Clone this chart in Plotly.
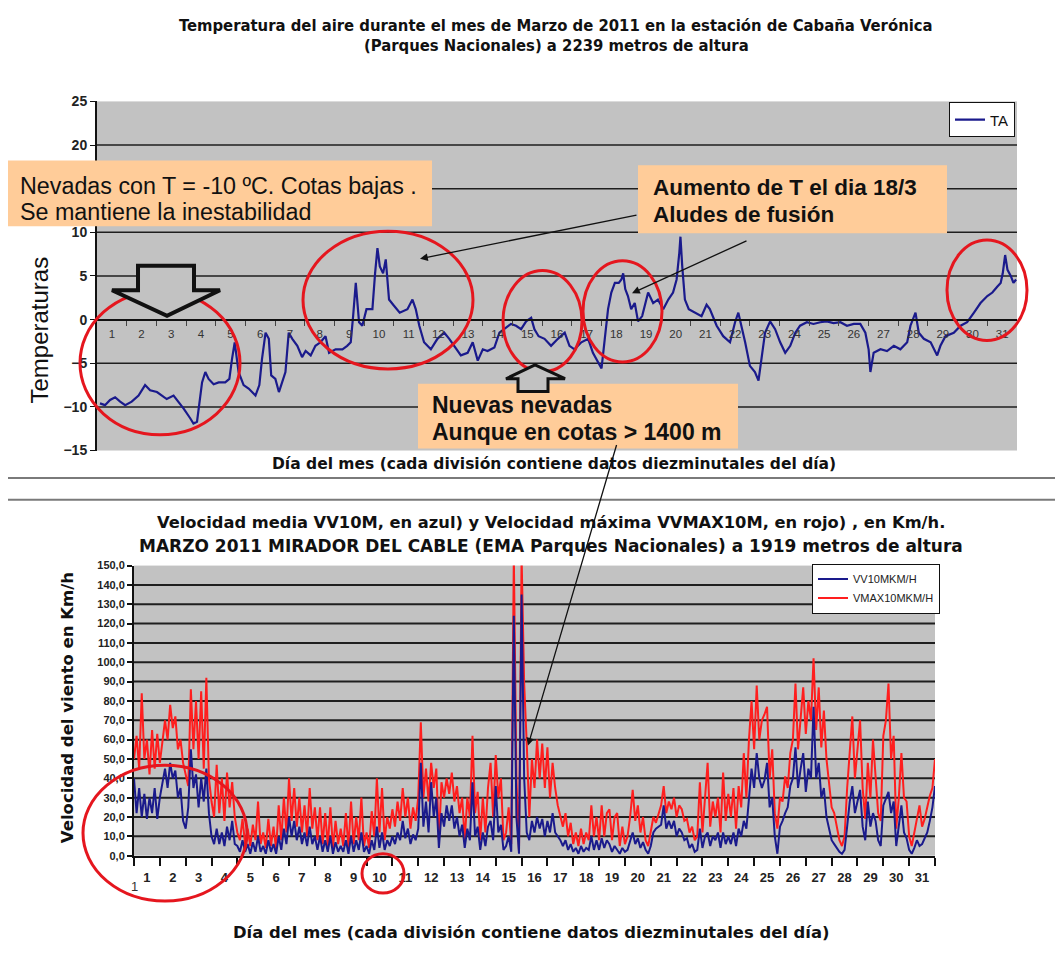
import plotly.graph_objects as go

W, H = 1055, 963


def px(x):
    return x / W


def py(y):
    return 1 - y / H


# ---------------- DATA ----------------
DAY_LABELS = [str(i) for i in range(1, 32)]

# Top chart: air temperature (TA), x = day of month as fraction (0 = start of day 1)
TEMP_DAY = [0.10, 0.27, 0.44, 0.61, 0.78, 0.95, 1.17, 1.40, 1.62, 1.79, 2.02, 2.18, 2.35, 2.58,
            2.75, 2.92, 3.14, 3.25, 3.37, 3.54, 3.65, 3.76, 3.93, 4.10, 4.32, 4.46, 4.55, 4.64,
            4.77, 4.94, 5.11, 5.34, 5.47, 5.56, 5.68, 5.79, 5.87, 6.01, 6.13, 6.24, 6.35, 6.46,
            6.58, 6.75, 6.91, 7.03, 7.20, 7.36, 7.53, 7.70, 7.82, 8.04, 8.27, 8.43, 8.55, 8.63,
            8.72, 8.83, 8.94, 9.08, 9.28, 9.37, 9.45, 9.53, 9.64, 9.73, 9.84, 9.98, 10.20, 10.46,
            10.63, 10.74, 10.86, 11.02, 11.25, 11.47, 11.70, 11.87, 12.04, 12.26, 12.49, 12.66,
            12.83, 13.00, 13.16, 13.39, 13.56, 13.73, 13.95, 14.12, 14.29, 14.46, 14.63, 14.74,
            14.88, 15.08, 15.30, 15.53, 15.76, 15.92, 16.09, 16.32, 16.55, 16.71, 16.88, 17.00,
            17.11, 17.22, 17.33, 17.45, 17.58, 17.67, 17.73, 17.80, 17.89, 18.00, 18.12, 18.23,
            18.37, 18.57, 18.74, 18.90, 19.08, 19.25, 19.41, 19.53, 19.62, 19.66, 19.72, 19.81,
            19.94, 20.14, 20.37, 20.54, 20.65, 20.88, 21.10, 21.33, 21.50, 21.61, 21.72, 21.84,
            22.00, 22.17, 22.29, 22.40, 22.51, 22.68, 22.85, 23.02, 23.19, 23.36, 23.53, 23.69,
            23.92, 24.14, 24.37, 24.59, 24.82, 25.05, 25.27, 25.50, 25.72, 25.89, 26.00, 26.06,
            26.17, 26.40, 26.62, 26.85, 27.07, 27.30, 27.41, 27.58, 27.69, 27.86, 28.09, 28.31,
            28.42, 28.59, 28.87, 29.10, 29.32, 29.55, 29.77, 30.00, 30.17, 30.34, 30.45, 30.52,
            30.60, 30.68, 30.79, 30.88, 30.97]
TEMP_TA = [-9.6, -9.8, -9.2, -8.9, -9.4, -9.8, -9.4, -8.7, -7.5, -8.1, -8.3, -8.7, -9.1, -8.7,
           -9.4, -10.2, -11.3, -11.9, -11.7, -7.2, -6.0, -6.8, -7.4, -7.2, -7.2, -6.8, -4.5, -2.6,
           -6.0, -7.5, -7.9, -8.7, -7.5, -4.5, -1.5, -2.2, -6.4, -6.8, -8.3, -7.2, -6.0, -1.5,
           -2.2, -3.0, -4.3, -3.6, -4.1, -3.0, -2.6, -1.9, -3.8, -3.4, -3.4, -3.0, -2.6, 0.4,
           4.2, -0.3, -0.7, 1.2, 1.2, 5.3, 8.2, 6.1, 5.3, 6.9, 2.3, 1.7, 0.8, 1.2,
           2.3, 1.2, -0.7, -2.6, -3.4, -2.2, -1.5, -2.2, -3.0, -4.1, -3.8, -2.6,
           -4.7, -3.4, -3.6, -3.2, -1.5, -1.1, -0.5, -0.7, -1.1, -0.2, 0.2, -1.1,
           -1.9, -2.2, -3.0, -2.2, -1.5, -3.0, -3.4, -2.6, -2.2, -3.8, -4.9, -5.6,
           -2.2, 1.2, 3.1, 4.2, 4.2, 4.6, 5.3, 3.5, 2.7, 1.2, 1.9, -0.2,
           0.4, 3.1, 1.9, 2.3, 1.2, 2.3, 3.1, 4.6, 7.6, 9.5, 6.1, 2.3,
           1.2, 0.8, 0.4, 1.7, 1.2, -0.7, -1.9, -2.6, -0.3, 0.8, -0.7, -2.6,
           -5.3, -6.0, -7.0, -4.5, -1.5, -0.2, -1.1, -2.6, -3.8, -3.0, -1.5, -0.7,
           -0.3, -0.5, -0.3, -0.2, -0.4, -0.3, -0.7, -0.5, -0.5, -1.5, -3.4, -6.0,
           -3.8, -3.4, -3.6, -3.0, -3.4, -2.6, -0.7, 0.8, -1.5, -2.2, -2.6, -4.1,
           -3.0, -1.9, -1.5, -0.7, -0.3, 0.8, 1.9, 2.7, 3.1, 3.8, 4.2, 5.3,
           7.4, 5.7, 5.0, 4.2, 4.6]
# "15" label is hidden behind the annotation box in the reference
TEMP_TICKS = [-15, -10, -5, 0, 5, 10, 20, 25]
TEMP_GRID = [-10, -5, 5, 10, 15, 20]

# Bottom chart: wind speed (km/h), sampled every 0.1 day
WIND_DAY = [round(i * 0.1, 1) for i in range(311)]
VMAX10 = [
    50, 62, 45, 84, 50, 60, 42, 65, 45, 63,
    48, 58, 70, 60, 78, 66, 72, 55, 60, 48,
    42, 36, 86, 55, 80, 50, 85, 45, 92, 40,
    28, 20, 47, 22, 40, 18, 43, 25, 38, 20,
    12, 8, 19, 6, 14, 5, 16, 8, 28, 6,
    12, 4, 19, 5, 15, 3, 26, 8, 30, 12,
    40, 18, 35, 15, 30, 12, 26, 10, 35, 14,
    25, 8, 25, 6, 22, 5, 25, 4, 18, 6,
    14, 5, 22, 4, 28, 6, 20, 8, 30, 5,
    12, 4, 23, 10, 40, 12, 35, 8, 20, 14,
    24, 15, 28, 18, 35, 20, 30, 14, 25, 18,
    30, 69, 30, 45, 28, 48, 35, 45, 8, 38,
    30, 40, 32, 43, 28, 36, 22, 30, 8, 30,
    20, 62, 22, 33, 8, 30, 12, 35, 48, 20,
    52, 30, 40, 8, 12, 25, 6, 155, 40, 2,
    155, 89, 58, 20, 50, 35, 60, 40, 58, 35,
    56, 30, 48, 35, 26, 20, 15, 22, 10, 17,
    6, 12, 5, 14, 6, 12, 8, 26, 10, 20,
    8, 26, 10, 22, 24, 8, 20, 22, 5, 15,
    6, 10, 20, 34, 18, 26, 12, 20, 8, 5,
    12, 20, 17, 21, 26, 36, 22, 28, 24, 30,
    20, 26, 24, 18, 19, 12, 15, 8, 10, 38,
    12, 30, 48, 15, 28, 20, 30, 12, 43, 18,
    32, 20, 35, 14, 36, 25, 53, 30, 60, 80,
    55, 88, 60, 70, 73, 77, 40, 55, 22, 14,
    30, 28, 41, 35, 53, 60, 89, 55, 72, 87,
    63, 80, 70, 102, 65, 87, 56, 75, 50, 36,
    25, 22, 15, 8, 5, 10, 35, 55, 72, 40,
    55, 70, 35, 19, 48, 30, 60, 40, 22, 18,
    62, 70, 89, 50, 62, 14, 30, 53, 30, 28,
    10, 5, 12, 20, 26, 15, 19, 25, 31, 35,
    50]
VV10 = [
    40, 22, 35, 20, 32, 19, 30, 22, 35, 19,
    30, 38, 45, 35, 48, 40, 44, 30, 35, 18,
    14, 25, 55, 35, 42, 25, 40, 28, 45, 22,
    10, 6, 14, 6, 12, 5, 15, 8, 18, 6,
    5, 2, 8, 2, 6, 1, 7, 2, 10, 2,
    5, 1, 8, 2, 6, 1, 10, 3, 14, 6,
    20, 10, 18, 8, 15, 6, 12, 5, 15, 6,
    10, 3, 10, 2, 8, 2, 10, 1, 7, 2,
    5, 2, 8, 1, 10, 2, 8, 3, 12, 2,
    5, 1, 8, 3, 15, 4, 12, 3, 8, 5,
    10, 6, 12, 8, 18, 9, 14, 6, 11, 8,
    14, 48, 15, 28, 12, 38, 20, 30, 4, 22,
    15, 26, 18, 26, 14, 20, 10, 16, 4, 14,
    8, 38, 10, 15, 3, 12, 5, 15, 18, 8,
    36, 12, 16, 3, 5, 10, 2, 124, 20, 1,
    135, 40, 12, 8, 18, 12, 20, 14, 19, 10,
    18, 12, 22, 12, 10, 8, 5, 8, 3, 6,
    2, 4, 1, 5, 2, 4, 3, 10, 3, 8,
    3, 9, 4, 8, 6, 2, 5, 3, 1, 4,
    2, 3, 8, 12, 6, 9, 4, 7, 3, 1,
    5, 12, 14, 15, 16, 26, 14, 18, 14, 18,
    10, 14, 12, 8, 9, 4, 6, 2, 3, 14,
    4, 10, 12, 5, 10, 8, 12, 4, 12, 6,
    10, 6, 12, 5, 14, 10, 18, 14, 30, 45,
    35, 53, 40, 35, 39, 48, 25, 30, 10, 1,
    15, 18, 22, 25, 36, 40, 56, 35, 45, 53,
    33, 45, 40, 77, 40, 48, 30, 35, 20, 14,
    8, 6, 4, 2, 1, 3, 15, 28, 36, 22,
    28, 34, 15, 8, 28, 15, 22, 18, 8, 5,
    26, 30, 33, 22, 28, 5, 15, 26, 12, 9,
    3, 1, 4, 8, 5, 6, 9, 12, 18, 25,
    36]
WIND_TICKS = list(range(0, 151, 10))
WIND_TICKTEXT = [f"{v},0" for v in WIND_TICKS]
WIND_GRID = list(range(10, 150, 10))

# ---------------- FIGURE ----------------
BG = "#C2C2C2"
NAVY = "#1A1A8C"
RED = "#FF1E1E"
FONT = "Liberation Sans, Arial, sans-serif"
WIDE = "DejaVu Sans, Verdana, sans-serif"

top_dom = [py(450), py(95)]
bot_dom = [py(862), py(567)]
zero_pos = top_dom[0] + (0 - (-15)) / 40 * (top_dom[1] - top_dom[0])

fig = go.Figure()
fig.add_trace(go.Scatter(x=TEMP_DAY, y=TEMP_TA, mode="lines", name="TA",
                         line=dict(color=NAVY, width=2.2), xaxis="x", yaxis="y",
                         legend="legend"))
fig.add_trace(go.Scatter(x=WIND_DAY, y=VMAX10, mode="lines", name="VMAX10MKM/H",
                         line=dict(color=RED, width=2), xaxis="x2", yaxis="y2",
                         legend="legend2", legendrank=2))
fig.add_trace(go.Scatter(x=WIND_DAY, y=VV10, mode="lines", name="VV10MKM/H",
                         line=dict(color=NAVY, width=2), xaxis="x2", yaxis="y2",
                         legend="legend2", legendrank=1))

centers = [i + 0.5 for i in range(31)]

fig.update_layout(
    width=W, height=H, margin=dict(l=0, r=0, t=0, b=0),
    paper_bgcolor="white", plot_bgcolor=BG,
    font=dict(family=FONT, color="#111"),
    xaxis=dict(domain=[px(97), px(1017)], range=[0, 31], anchor="free", position=zero_pos,
               tickvals=centers, ticktext=DAY_LABELS, ticks="", showgrid=False,
               zeroline=False, showline=True, linecolor="#111", linewidth=2,
               tickfont=dict(size=11.5, color="#333"), ticklabelstandoff=4,
               minor=dict(tickvals=list(range(1, 31)), ticks="outside", ticklen=5,
                          tickwidth=1, tickcolor="#444", showgrid=False)),
    yaxis=dict(domain=top_dom, range=[-15, 25], anchor="x", tickvals=TEMP_TICKS,
               ticks="outside", ticklen=5, tickcolor="#111", showgrid=False,
               zeroline=False, showline=True, linecolor="#111", linewidth=2,
               tickfont=dict(size=14, color="#222", weight="bold")),
    xaxis2=dict(domain=[px(134), px(935)], range=[0, 31], anchor="y2",
                tickvals=centers, ticktext=DAY_LABELS, ticks="", showgrid=False,
                zeroline=False, showline=True, linecolor="#111", linewidth=2,
                tickfont=dict(size=13, color="#222", weight="bold"), ticklabelstandoff=9,
                minor=dict(tickvals=list(range(0, 32)), ticks="outside", ticklen=8,
                           tickwidth=2, tickcolor="#111", showgrid=False)),
    yaxis2=dict(domain=bot_dom, range=[0, 150], anchor="x2", tickvals=WIND_TICKS,
                ticktext=WIND_TICKTEXT, ticks="outside", ticklen=5, tickwidth=2,
                tickcolor="#111", showgrid=False, zeroline=False, showline=True,
                linecolor="#111", linewidth=2,
                tickfont=dict(size=11, color="#222", weight="bold")),
    legend=dict(x=px(1015), xanchor="right", y=py(96), yanchor="top", bgcolor="white",
                bordercolor="#111", borderwidth=1, font=dict(size=15, color="#111"),
                itemwidth=30, tracegroupgap=0),
    legend2=dict(x=px(940), xanchor="right", y=py(565), yanchor="top", bgcolor="white",
                 bordercolor="#111", borderwidth=1, font=dict(size=11, color="#222"),
                 itemwidth=30, tracegroupgap=0),
    showlegend=True,
)

shapes = []
# gridlines
for v in TEMP_GRID:
    shapes.append(dict(type="line", xref="x domain", yref="y", x0=0, x1=1, y0=v, y1=v,
                       line=dict(color="#1E1E1E", width=1.5), layer="below"))
for v in WIND_GRID:
    shapes.append(dict(type="line", xref="x2 domain", yref="y2", x0=0, x1=1, y0=v, y1=v,
                       line=dict(color="#1E1E1E", width=2), layer="below"))
# separator lines between charts
for yy in (478, 500):
    shapes.append(dict(type="line", xref="paper", yref="paper", x0=px(8), x1=1,
                       y0=py(yy), y1=py(yy), line=dict(color="#7A7A7A", width=2)))

PEACH = "#FFCC99"
boxes = [(8, 155, 432, 222), (638, 160, 947, 229), (418, 382, 738, 448)]
for x0, y0, x1, y1 in boxes:
    shapes.append(dict(type="rect", xref="paper", yref="paper", x0=px(x0), x1=px(x1),
                       y0=py(y1), y1=py(y0), fillcolor=PEACH, line=dict(width=0),
                       layer="above"))

ELL = "#E5161E"
ellipses = [(80, 288, 240, 434), (303, 227, 473, 367), (503, 267, 582, 370),
            (583, 257, 662, 360), (947, 236, 1027, 338), (83, 770, 247, 908),
            (362, 860, 404, 900)]
for x0, y0, x1, y1 in ellipses:
    shapes.append(dict(type="circle", xref="paper", yref="paper", x0=px(x0), x1=px(x1),
                       y0=py(y1), y1=py(y0), line=dict(color=ELL, width=3), layer="above"))


def path(points):
    s = "M " + " L ".join(f"{px(a):.5f},{py(b):.5f}" for a, b in points) + " Z"
    return s


down_arrow = [(138, 262), (194, 262), (194, 287), (220, 287), (167, 313), (112, 287), (138, 287)]
up_arrow = [(535, 363), (565, 377), (548, 377), (548, 390), (518, 390), (518, 377), (506, 377)]
shapes.append(dict(type="path", xref="paper", yref="paper", path=path(down_arrow),
                   fillcolor=BG, line=dict(color="#111", width=4), layer="above"))
shapes.append(dict(type="path", xref="paper", yref="paper", path=path(up_arrow),
                   fillcolor=BG, line=dict(color="#111", width=3), layer="above"))
fig.update_layout(shapes=shapes)

ann = []


def text(x, y, t, size, bold=False, xanchor="center", angle=0, color="#111", family=FONT):
    ann.append(dict(x=px(x), y=py(y), xref="paper", yref="paper", text=t, showarrow=False,
                    xanchor=xanchor, yanchor="middle", textangle=angle,
                    font=dict(size=size, color=color, family=family,
                              weight="bold" if bold else "normal")))


NARROW = "Liberation Sans Narrow, DejaVu Sans Condensed, Arial, sans-serif"
text(556, 18, "Temperatura del aire durante el mes de Marzo de 2011 en la estación de Cabaña Verónica",
     16.5, bold=True, family=NARROW)
text(556, 38, "(Parques Nacionales) a 2239 metros de altura", 16.5, bold=True, family=NARROW)
text(40, 328, "Temperaturas", 24, angle=-90)
text(554, 464, "Día del mes (cada división contiene datos diezminutales del día)", 15.5,
     bold=True, family=WIDE)

text(551, 523, "Velocidad media VV10M, en azul) y Velocidad máxima VVMAX10M, en rojo) , en Km/h.",
     16.3, bold=True, family=WIDE)
text(551, 547, "MARZO 2011 MIRADOR DEL CABLE (EMA Parques Nacionales) a 1919 metros de altura",
     17, bold=True, family=WIDE)
text(67, 712, "Velocidad del viento en Km/h", 16.5, bold=True, angle=-90, family=WIDE)
text(531, 940, "Día del mes (cada división contiene datos diezminutales del día)", 16.4,
     bold=True, family=WIDE)
text(134, 893, "1", 13, color="#333")

text(18, 181, "Nevadas con T = -10 ºC. Cotas bajas .", 23.3, xanchor="left")
text(18, 207, "Se mantiene la inestabilidad", 23.3, xanchor="left")
text(651, 183, "Aumento de T el dia 18/3", 22.5, bold=True, xanchor="left")
text(651, 210, "Aludes de fusión", 22.5, bold=True, xanchor="left")
text(430, 404, "Nuevas nevadas", 23, bold=True, xanchor="left")
text(430, 431, "Aunque en cotas > 1400 m", 23, bold=True, xanchor="left")


def arrow(head, tail):
    ann.append(dict(x=px(head[0]), y=py(head[1]), xref="paper", yref="paper", text="",
                    showarrow=True, ax=tail[0] - head[0], ay=tail[1] - head[1],
                    arrowhead=2, arrowsize=1.2, arrowwidth=1.3, arrowcolor="#111"))


arrow((420, 255), (638, 211))
arrow((632, 290), (748, 237))
arrow((528, 750), (617, 448))

fig.update_layout(annotations=ann)
fig.write_html("out.html", config={"displayModeBar": False},
               post_script="document.body.style.margin='0';")
